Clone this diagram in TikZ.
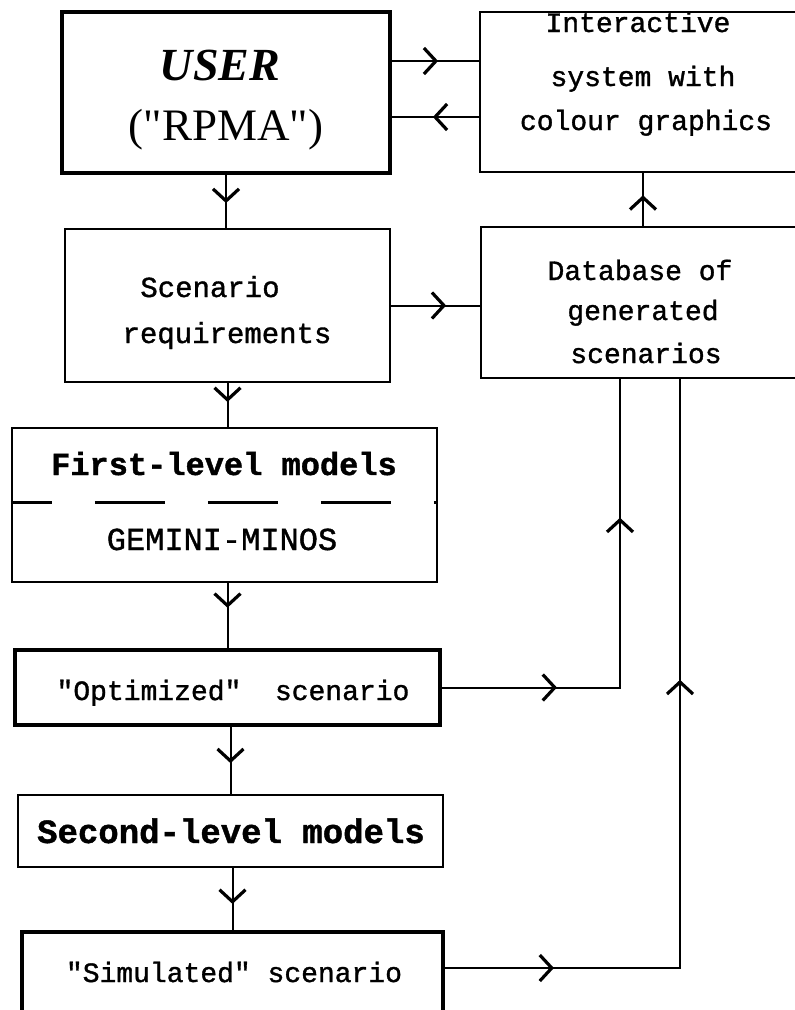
\documentclass[tikz,border=0pt]{standalone}
\usepackage{fontspec}
\setmainfont{Liberation Mono}[Ligatures=TeXOff, FakeBold=1.2]
\newfontfamily\serifx{Liberation Serif}[Ligatures=TeXOff]
\usetikzlibrary{arrows.meta,decorations.markings,calc}
\tikzset{
  box/.style={draw, line width=2.5pt, inner sep=0pt},
  thickbox/.style={draw, line width=4.5pt, inner sep=0pt},
  conn/.style={line width=2pt},
  txt/.style={font=\fontsize{28}{30}\selectfont, inner sep=0pt, anchor=base},
  head/.style={font=\fontsize{32}{34}\selectfont\bfseries, inner sep=0pt, anchor=base},
  barb/.tip={Straight Barb[length=12pt,width=26pt,line width=3.2pt]},
  tipat/.style={postaction={decorate}, decoration={markings, mark=at position #1 with {\arrow{barb}}}},
  tiptwo/.style 2 args={postaction={decorate}, decoration={markings,
      mark=at position #1 with {\arrow{barb}}, mark=at position #2 with {\arrow{barb}}}},
}
\begin{document}
\begin{tikzpicture}[x=1pt,y=-1pt]
\useasboundingbox (0,0) rectangle (795,1010);
% boxes
\node[thickbox, minimum width=328pt, minimum height=161pt] (user) at (226,92.5) {};
\node[box, minimum width=320pt, minimum height=160pt] (inter) at (640,92) {};
\node[box, minimum width=325pt, minimum height=153pt] (scen) at (227.5,305.5) {};
\node[box, minimum width=319pt, minimum height=151pt] (db) at (640.5,302.5) {};
\node[box, minimum width=425pt, minimum height=154pt] (first) at (224.5,505) {};
\node[thickbox, minimum width=425pt, minimum height=75pt] (opt) at (227.5,687.5) {};
\node[box, minimum width=425pt, minimum height=72pt] (second) at (230.5,831) {};
\node[thickbox, minimum width=421pt, minimum height=83pt] (sim) at (232.5,973.5) {};
% dashed divider
\coordinate (dl) at (0,502);
\draw[line width=3pt, dash pattern=on 70pt off 43pt, dash phase=29pt] (first.west |- dl) -- (first.east |- dl);
% texts
\node[font=\serifx\bfseries\itshape\fontsize{46}{48}\selectfont, inner sep=0pt, anchor=base] (tuser) at (220,80) {USER};
\node[font=\serifx\fontsize{45}{48}\selectfont, inner sep=0pt, anchor=base] (trpma) at (226,140) {("RPMA")};
\node[txt] (ti1) at (638,32) {Interactive};
\node[txt] (ti2) at (643,86) {system with};
\node[txt] (ti3) at (646,130) {colour graphics};
\node[txt, font=\fontsize{29}{30}\selectfont] (ts1) at (210,297) {Scenario};
\node[txt, font=\fontsize{29}{30}\selectfont] (ts2) at (227,343) {requirements};
\node[txt] (td1) at (640,280) {Database of};
\node[txt] (td2) at (643,320) {generated};
\node[txt] (td3) at (646,363) {scenarios};
\node[head] (tf1) at (224,475) {First-level models};
\node[txt, font=\fontsize{32}{34}\selectfont] (tf2) at (222,550) {GEMINI-MINOS};
\node[txt] (to) at (233,700) {"Optimized"\ \ scenario};
\node[head, font=\fontsize{34}{36}\selectfont\bfseries] (tsl) at (231,843) {Second-level models};
\node[txt] (tsim) at (234,982) {"Simulated" scenario};
% connectors
\coordinate (a1) at ($(user.east)+(0,-31.5)$);
\draw[conn, tipat=0.53] (a1) -- (a1 -| inter.west);
\coordinate (a2) at ($(user.east)+(0,24.5)$);
\draw[conn, tipat=0.53] (a2 -| inter.west) -- (a2);
\draw[conn, tipat=0.53] (user.south) -- (user.south |- scen.north);
\draw[conn, tipat=0.62] (scen.east) -- (scen.east -| db.west);
\coordinate (k5) at (643,200);
\draw[conn, tipat=0.58] (db.north -| k5) -- (inter.south -| k5);
\draw[conn, tipat=0.43] (scen.south) -- (scen.south |- first.north);
\draw[conn, tipat=0.38] (opt.north |- first.south) -- (opt.north);
\draw[conn, tipat=0.54] (second.north |- opt.south) -- (second.north);
\draw[conn, tipat=0.58] (sim.north |- second.south) -- (sim.north);
\coordinate (k8) at (620,686);
\draw[conn, tiptwo={0.236}{0.715}] (opt.east) -- (opt.east -| k8) -- (db.south -| k8);
\coordinate (k11) at (680,968);
\coordinate (s1) at (sim.east |- k11);
\draw[conn, tiptwo={0.132}{0.635}] (s1) -- (k11) -- (db.south -| k11);
\end{tikzpicture}
\end{document}
